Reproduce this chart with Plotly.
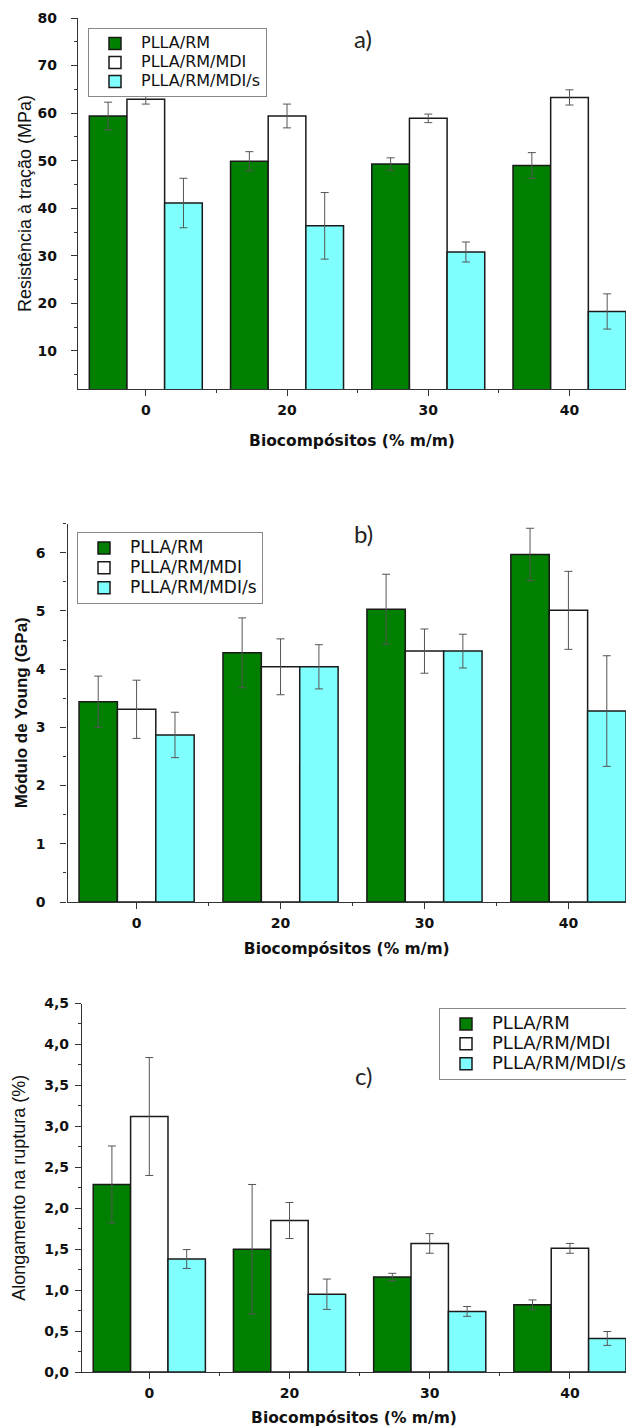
import plotly.graph_objects as go

# ---------------- data ----------------
categories = ["0", "20", "30", "40"]
series_names = ["PLLA/RM", "PLLA/RM/MDI", "PLLA/RM/MDI/s"]

tensile_rm = [59.4, 49.9, 49.3, 49.0]
tensile_rm_err = [2.9, 2.0, 1.3, 2.7]
tensile_mdi = [62.9, 59.4, 58.9, 63.3]
tensile_mdi_err = [1.0, 2.5, 0.9, 1.6]
tensile_mdis = [41.1, 36.3, 30.8, 18.3]
tensile_mdis_err = [5.2, 7.0, 2.1, 3.7]

young_rm = [3.44, 4.28, 5.03, 5.97]
young_rm_err = [0.44, 0.60, 0.60, 0.45]
young_mdi = [3.31, 4.04, 4.31, 5.01]
young_mdi_err = [0.50, 0.48, 0.38, 0.67]
young_mdis = [2.87, 4.04, 4.31, 3.28]
young_mdis_err = [0.39, 0.38, 0.29, 0.95]

elong_rm = [2.29, 1.50, 1.16, 0.82]
elong_rm_err = [0.47, 0.79, 0.045, 0.06]
elong_mdi = [3.12, 1.85, 1.57, 1.51]
elong_mdi_err = [0.72, 0.22, 0.12, 0.06]
elong_mdis = [1.38, 0.95, 0.74, 0.41]
elong_mdis_err = [0.115, 0.185, 0.06, 0.085]

# ---------------- style ----------------
W, H = 626, 1427
colors = ["#007F00", "#FFFFFF", "#80FFFF"]
FONT = "Liberation Sans, Arial, sans-serif"
WIDE = "DejaVu Sans, Verdana, sans-serif"
xpos = list(range(len(categories)))

panels = [
    dict(vals=[tensile_rm, tensile_mdi, tensile_mdis],
         errs=[tensile_rm_err, tensile_mdi_err, tensile_mdis_err],
         xa="x", ya="y", legend="legend", lsize=16),
    dict(vals=[young_rm, young_mdi, young_mdis],
         errs=[young_rm_err, young_mdi_err, young_mdis_err],
         xa="x2", ya="y2", legend="legend2", lsize=17),
    dict(vals=[elong_rm, elong_mdi, elong_mdis],
         errs=[elong_rm_err, elong_mdi_err, elong_mdis_err],
         xa="x3", ya="y3", legend="legend3", lsize=18),
]

fig = go.Figure()
for p in panels:
    for name, vals, errs, col in zip(series_names, p["vals"], p["errs"], colors):
        fig.add_trace(go.Bar(
            x=xpos, y=vals,
            name=f"<span style='font-size:{p['lsize']}px'>{name}</span>",
            xaxis=p["xa"], yaxis=p["ya"], legend=p["legend"],
            marker=dict(color=col, line=dict(color="#1a1a1a", width=1.5)),
            error_y=dict(type="data", array=errs, color="#555555",
                         thickness=1, width=4),
        ))

def xaxis(domain, anchor, title_standoff):
    return dict(
        domain=domain, anchor=anchor, range=[-0.48, 3.40],
        tickvals=xpos, ticktext=categories,
        showline=True, linecolor="#333", linewidth=1.2,
        ticks="outside", ticklen=6, tickcolor="#333", tickwidth=1.2,
        ticklabelstandoff=2,
        minor=dict(tickvals=[0.5, 1.5, 2.5], ticks="outside", ticklen=3,
                   tickcolor="#333"),
        showgrid=False, zeroline=False,
        tickfont=dict(family=WIDE, size=14, color="#111", weight="bold"),
        title=dict(text="Biocompósitos (% m/m)", standoff=title_standoff,
                   font=dict(family=WIDE, size=15.5, color="#111", weight="bold")),
    )

def yaxis(domain, anchor, rng, dtick, minor_dtick, title, label_standoff,
          title_standoff, fmt=None, bold=False):
    d = dict(
        domain=domain, anchor=anchor, range=rng, dtick=dtick, tick0=0,
        showline=True, linecolor="#333", linewidth=1.2,
        ticks="outside", ticklen=6, tickcolor="#333", tickwidth=1.2,
        ticklabelstandoff=label_standoff,
        minor=dict(dtick=minor_dtick, tick0=0, ticks="outside", ticklen=3,
                   tickcolor="#333"),
        showgrid=False, zeroline=False,
        tickfont=dict(family=WIDE, size=14, color="#111", weight="bold"),
        title=dict(text=title, standoff=title_standoff,
                   font=dict(family=FONT, size=18 if not bold else 17, color="#111",
                             weight="bold" if bold else "normal")),
    )
    if fmt:
        d["tickformat"] = fmt
    return d

def ydom(top_px, bottom_px):
    return [1 - bottom_px / H, 1 - top_px / H]

def legend(x_px, y_px, size):
    return dict(
        x=x_px / W, y=1 - y_px / H, xanchor="left", yanchor="top",
        bgcolor="white", bordercolor="#888", borderwidth=1, tracegroupgap=0,
        itemwidth=42,
        font=dict(family=WIDE, size=size, color="#111"),
    )

fig.update_layout(
    width=W, height=H, template="none",
    paper_bgcolor="white", plot_bgcolor="white",
    margin=dict(l=0, r=0, t=0, b=0, autoexpand=False),
    barmode="group", bargap=0.2, bargroupgap=0,
    separators=",.",
    xaxis=xaxis([78 / W, 1], "y", 18),
    yaxis=yaxis(ydom(18, 389), "x", [2, 80], 10, 5, "Resistência à tração (MPa)", 11, 1),
    xaxis2=xaxis([67.5 / W, 1], "y2", 13),
    yaxis2=yaxis(ydom(523.6, 902), "x2", [0, 6.5], 1, 0.5, "Módulo de Young (GPa)", 12, 3,
                 bold=True),
    xaxis3=xaxis([82 / W, 1], "y3", 15),
    yaxis3=yaxis(ydom(1003.5, 1372), "x3", [0, 4.5], 0.5, 0.25,
                 "Alongamento na ruptura (%)", 3, 13, fmt=".1f"),
    legend=legend(88, 28, 12),
    legend2=legend(77, 532, 13),
    legend3=legend(439, 1008, 13),
    showlegend=True,
)

for txt, yy in [("a)", 38), ("b)", 533), ("c)", 1075)]:
    fig.add_annotation(text=txt, xref="paper", yref="paper", x=363 / W, y=1 - yy / H,
                       showarrow=False, xanchor="center", yanchor="middle",
                       font=dict(family="Lato, Open Sans, sans-serif", size=24, color="#222"))

fig.write_html("out.html")
